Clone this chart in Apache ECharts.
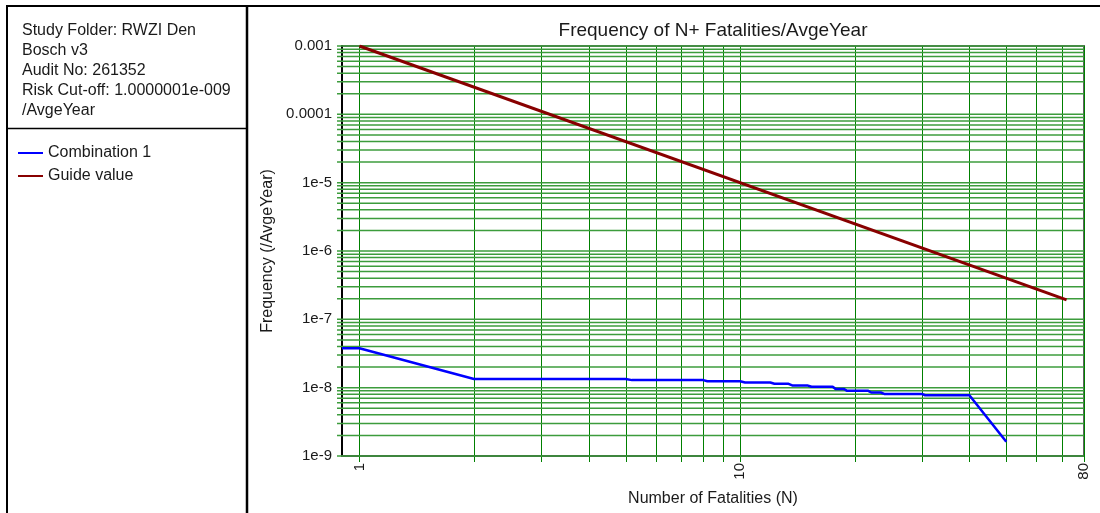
<!DOCTYPE html>
<html>
<head>
<meta charset="utf-8">
<title>Frequency of N+ Fatalities/AvgeYear</title>
<script src="https://cdn.jsdelivr.net/npm/echarts@6/dist/echarts.min.js"></script>
<style>
  html, body { margin: 0; padding: 0; background: #fff; }
  #chart { width: 1100px; height: 513px; }
</style>
</head>
<body>
<div id="chart"></div>
<script>
// FN curve
const combinationN = [0.9, 1, 2, 5, 5.2, 8, 8.2, 10, 10.3, 12, 12.3, 13.4, 13.7, 15, 15.4, 17.5, 17.8, 18.7, 19.1, 21.7, 22.1, 23.4, 23.9, 30, 30.6, 40, 50]
const combinationF = [3.77e-8, 3.77e-8, 1.34e-8, 1.34e-8, 1.29e-8, 1.29e-8, 1.24e-8, 1.24e-8, 1.19e-8, 1.19e-8, 1.14e-8, 1.14e-8, 1.08e-8, 1.08e-8, 1.03e-8, 1.03e-8, 9.6e-9, 9.6e-9, 9.0e-9, 9.0e-9, 8.5e-9, 8.5e-9, 8.1e-9, 8.1e-9, 7.75e-9, 7.75e-9, 1.62e-9]
const guideN = [1, 72]
const guideF = [1e-3, 1.93e-7]

const xTickValues = [1, 10, 80]
const xTickLabels = ['1', '10', '80']
const yTickValues = [1e-3, 1e-4, 1e-5, 1e-6, 1e-7, 1e-8, 1e-9]
const yTickLabels = ['0.001', '0.0001', '1e-5', '1e-6', '1e-7', '1e-8', '1e-9']

// grid lines (log scale: 1..9 in each decade)
const xGridValues = [1, 2, 3, 4, 5, 6, 7, 8, 9, 10, 20, 30, 40, 50, 60, 70, 80]
const yDecades = [1e-9, 1e-8, 1e-7, 1e-6, 1e-5, 1e-4]
const gridSteps = [1, 2, 3, 4, 5, 6, 7, 8, 9]
const yGridValues = [1e-3]
yDecades.forEach((d) => gridSteps.forEach((k) => yGridValues.push(k * d)))

const infoLines = ['Study Folder: RWZI Den', 'Bosch v3', 'Audit No: 261352', 'Risk Cut-off: 1.0000001e-009', '/AvgeYear']

const xMin = 0.9
const xMax = 80
const yMin = 1e-9
const yMax = 1e-3
const font = "'Liberation Sans', Arial, sans-serif"
const textColor = '#1a1a1a'

function pickLabel(value, values, labels) {
  for (let i = 0; i < values.length; i++) {
    if (Math.abs(value - values[i]) < values[i] * 1e-6) return labels[i]
  }
  return ''
}

function toPairs(xs, ys) {
  return xs.map((x, i) => [x, ys[i]])
}

const chart = echarts.init(document.getElementById('chart'))

const option = {
  animation: false,
  textStyle: { fontFamily: font },
  title: {
    text: 'Frequency of N+ Fatalities/AvgeYear',
    left: 713,
    top: 21,
    padding: 0,
    textAlign: 'center',
    textStyle: { fontSize: 19, fontWeight: 'normal', color: textColor, fontFamily: font }
  },
  legend: {
    orient: 'vertical',
    left: 18,
    top: 145,
    padding: 0,
    icon: 'rect',
    itemWidth: 25,
    itemHeight: 2,
    itemGap: 7,
    selectedMode: false,
    textStyle: { fontSize: 16, lineHeight: 16, color: textColor, fontFamily: font },
    data: ['Combination 1', 'Guide value']
  },
  grid: {
    left: 342,
    right: 16,
    top: 46,
    bottom: 57,
    show: true,
    borderColor: '#606060',
    borderWidth: 2,
    backgroundColor: '#fff'
  },
  xAxis: {
    type: 'log',
    min: xMin,
    max: xMax,
    name: 'Number of Fatalities (N)',
    nameLocation: 'middle',
    nameGap: 35,
    nameTextStyle: { fontSize: 16, color: textColor, fontFamily: font },
    axisLine: { onZero: false, lineStyle: { color: '#404040', width: 2 } },
    axisTick: { show: false },
    splitLine: { show: false },
    minorTick: { show: false },
    axisLabel: {
      rotate: 90,
      margin: 7,
      fontSize: 15,
      color: textColor,
      showMinLabel: true,
      showMaxLabel: true,
      formatter: (v) => pickLabel(v, xTickValues, xTickLabels)
    }
  },
  yAxis: {
    type: 'log',
    min: yMin,
    max: yMax,
    name: 'Frequency (/AvgeYear)',
    nameLocation: 'middle',
    nameGap: 64,
    nameTextStyle: { fontSize: 16, color: textColor, fontFamily: font },
    axisLine: { lineStyle: { color: '#000', width: 2 } },
    axisTick: { show: false },
    splitLine: { show: false },
    axisLabel: {
      margin: 10,
      fontSize: 15,
      color: textColor,
      verticalAlign: 'middle',
      padding: [3, 0, 0, 0],
      formatter: (v) => pickLabel(v, yTickValues, yTickLabels)
    }
  },
  graphic: [
    { type: 'line', shape: { x1: 6, y1: 6, x2: 1100, y2: 6 }, style: { stroke: '#000', lineWidth: 2 } },
    { type: 'line', shape: { x1: 7, y1: 6, x2: 7, y2: 513 }, style: { stroke: '#000', lineWidth: 2 } },
    { type: 'line', shape: { x1: 247, y1: 6, x2: 247, y2: 513 }, style: { stroke: '#000', lineWidth: 2.5 } },
    { type: 'line', shape: { x1: 7, y1: 128.5, x2: 247, y2: 128.5 }, style: { stroke: '#000', lineWidth: 1.5 } },
    {
      type: 'text',
      left: 22,
      top: 21,
      style: {
        text: infoLines.join('\n'),
        font: '16px ' + font,
        lineHeight: 20,
        fill: textColor
      }
    }
  ],
  series: [
    {
      name: 'vgrid',
      type: 'custom',
      silent: true,
      z: 1,
      data: xGridValues.map((v) => [v, yMin]),
      renderItem: (params, api) => {
        const v = api.value(0)
        const top = api.coord([v, yMax])
        const bottom = api.coord([v, yMin])
        const x = Math.round(top[0]) + 0.5
        return {
          type: 'line',
          shape: { x1: x, y1: top[1], x2: x, y2: bottom[1] + 6 },
          style: { stroke: '#008000', lineWidth: 1 }
        }
      }
    },
    {
      name: 'hgrid',
      type: 'custom',
      silent: true,
      z: 1,
      data: yGridValues.map((v) => [xMin, v]),
      renderItem: (params, api) => {
        const v = api.value(1)
        const left = api.coord([xMin, v])
        const right = api.coord([xMax, v])
        return {
          type: 'line',
          shape: { x1: left[0] - 5, y1: left[1], x2: right[0], y2: right[1] },
          style: { stroke: '#3c9c3c', lineWidth: 1.5 }
        }
      }
    },
    {
      name: 'Combination 1',
      type: 'line',
      z: 3,
      data: toPairs(combinationN, combinationF),
      showSymbol: false,
      color: '#0000ff',
      lineStyle: { width: 2.5, color: '#0000ff' }
    },
    {
      name: 'Guide value',
      type: 'line',
      z: 3,
      data: toPairs(guideN, guideF),
      showSymbol: false,
      color: '#880000',
      lineStyle: { width: 3, color: '#880000' }
    }
  ]
}

chart.setOption(option)
window.addEventListener('resize', () => chart.resize())
</script>
</body>
</html>
